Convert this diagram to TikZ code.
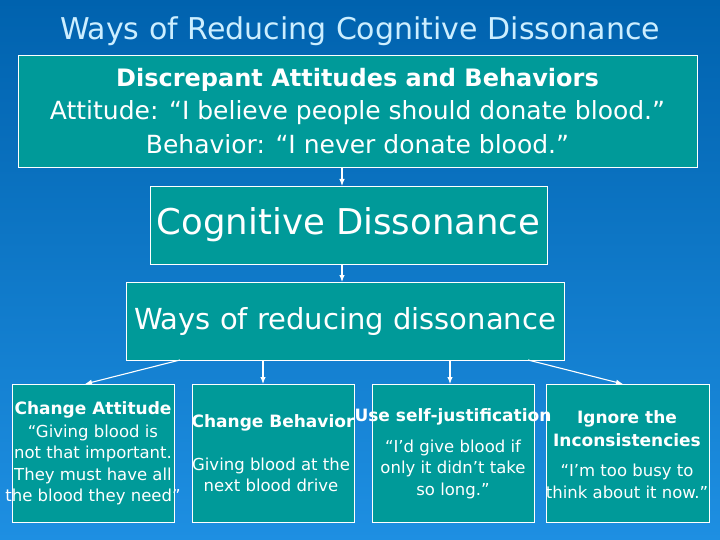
\documentclass[tikz,border=0pt]{standalone}
\usepackage{fontspec}
\setmainfont{DejaVu Sans}
\usetikzlibrary{arrows.meta, calc}

\definecolor{bgtop}{HTML}{0062AE}
\definecolor{bgbottom}{HTML}{1E8FE2}
\definecolor{tealbox}{HTML}{009A99}
\definecolor{titlecyan}{HTML}{CCEEFF}

\begin{document}
\begin{tikzpicture}[
    x=1pt, y=-1pt,
    box/.style={draw=white, line width=0.8pt, fill=tealbox, inner sep=0pt, outer sep=0pt, align=center, text=white},
    head/.style={text=white, font=\bfseries\fontsize{17}{23}\selectfont, align=center, inner sep=0pt},
    body/.style={text=white, font=\fontsize{16.5}{21.5}\selectfont, align=center, inner sep=0pt},
    arrow/.style={-{Latex[length=7pt, width=5.5pt]}, white, line width=1.1pt}
]
    % Background
    \shade[top color=bgtop, bottom color=bgbottom] (0,0) rectangle (720,540);
    \useasboundingbox (0,0) rectangle (720,540);

    % Title
    \node[text=titlecyan, font=\fontsize{30}{36}\selectfont] (title) at (360,31) {Ways of Reducing Cognitive Dissonance};

    % Top chain
    \node[box, minimum width=679pt, minimum height=112pt, font=\fontsize{25}{33.5}\selectfont] (discrep) at (357.5,111)
        {{\bfseries\fontsize{24}{33.5}\selectfont Discrepant Attitudes and Behaviors}\\Attitude: “I believe people should donate blood.”\\Behavior: “I never donate blood.”};
    \node[box, minimum width=397pt, minimum height=78pt, font=\fontsize{35.5}{40}\selectfont] (cogdis) at (348.5,225) {Cognitive Dissonance};
    \node[box, minimum width=438pt, minimum height=78pt, font=\fontsize{29}{34}\selectfont] (ways) at (345,321) {Ways of reducing dissonance};

    % Four ways
    \node[box, minimum width=162pt, minimum height=138pt] (attitude) at (93,453) {};
    \node[box, minimum width=162pt, minimum height=138pt] (behavior) at (273,453) {};
    \node[box, minimum width=162pt, minimum height=138pt] (justify) at (453,453) {};
    \node[box, minimum width=163pt, minimum height=138pt] (ignore) at (627.5,453) {};

    \node[head] (attitudehead) at (93,410) {Change Attitude};
    \node[body] (attitudetext) at (93,465) {“Giving blood is\\not that important.\\They must have all\\the blood they need”};
    \node[head] (behaviorhead) at (273,423) {Change Behavior};
    \node[body] (behaviortext) at (271,475) {Giving blood at the\\next blood drive};
    \node[head] (justifyhead) at (453,417) {Use self-justification};
    \node[body] (justifytext) at (453,469) {“I’d give blood if\\only it didn’t take\\so long.”};
    \node[head] (ignorehead) at (627,428.5) {Ignore the\\Inconsistencies};
    \node[body] (ignoretext) at (627,481.5) {“I’m too busy to\\think about it now.”};

    % Arrows
    \draw[arrow] ([xshift=-15.5pt]discrep.south) -- ([xshift=-6.5pt]cogdis.north);
    \draw[arrow] ([xshift=-6.5pt]cogdis.south) -- ([xshift=-3pt]ways.north);
    \draw[arrow] ([xshift=-165pt]ways.south) -- ([xshift=-8pt]attitude.north);
    \draw[arrow] ([xshift=-82pt]ways.south) -- ([xshift=-10pt]behavior.north);
    \draw[arrow] ([xshift=105pt]ways.south) -- ([xshift=-3pt]justify.north);
    \draw[arrow] ([xshift=183pt]ways.south) -- ([xshift=-4.5pt]ignore.north);
\end{tikzpicture}
\end{document}
